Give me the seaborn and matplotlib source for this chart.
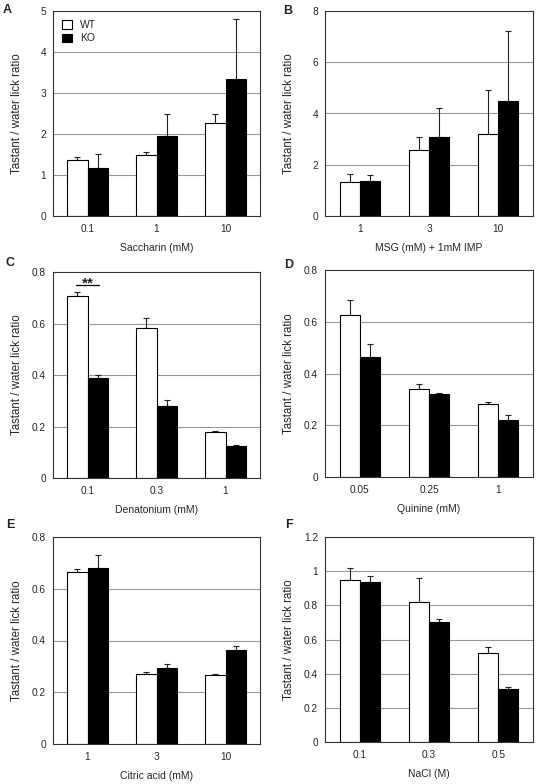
import matplotlib
matplotlib.use('Agg')  # Use a non-interactive backend
import numpy as np
import pandas as pd
import matplotlib.pyplot as plt
from matplotlib.patches import Patch
import seaborn as sns

# Panel data (means and upper SEM)
saccharin = ['0.1', '1', '10']
saccharin_wt = [1.37, 1.49, 2.27]
saccharin_wt_sem = [0.06, 0.06, 0.21]
saccharin_ko = [1.16, 1.96, 3.33]
saccharin_ko_sem = [0.34, 0.53, 1.47]

msg = ['1', '3', '10']
msg_wt = [1.33, 2.57, 3.20]
msg_wt_sem = [0.29, 0.50, 1.72]
msg_ko = [1.37, 3.08, 4.48]
msg_ko_sem = [0.23, 1.14, 2.72]

denatonium = ['0.1', '0.3', '1']
denatonium_wt = [0.707, 0.581, 0.179]
denatonium_wt_sem = [0.015, 0.041, 0.002]
denatonium_ko = [0.388, 0.280, 0.123]
denatonium_ko_sem = [0.013, 0.023, 0.007]

quinine = ['0.05', '0.25', '1']
quinine_wt = [0.628, 0.340, 0.283]
quinine_wt_sem = [0.055, 0.018, 0.007]
quinine_ko = [0.465, 0.320, 0.221]
quinine_ko_sem = [0.050, 0.006, 0.019]

citric = ['1', '3', '10']
citric_wt = [0.664, 0.269, 0.267]
citric_wt_sem = [0.014, 0.010, 0.005]
citric_ko = [0.681, 0.292, 0.362]
citric_ko_sem = [0.049, 0.016, 0.015]

nacl = ['0.1', '0.3', '0.5']
nacl_wt = [0.948, 0.822, 0.523]
nacl_wt_sem = [0.070, 0.140, 0.035]
nacl_ko = [0.935, 0.703, 0.308]
nacl_ko_sem = [0.038, 0.017, 0.016]

ticks_5 = [0, 1, 2, 3, 4, 5]
ticks_8 = [0, 2, 4, 6, 8]
ticks_08 = [0, 0.2, 0.4, 0.6, 0.8]
labels_08 = ['0', '0.2', '0.4', '0.6', '0.8']
ticks_12 = [0, 0.2, 0.4, 0.6, 0.8, 1.0, 1.2]
labels_12 = ['0', '0.2', '0.4', '0.6', '0.8', '1', '1.2']

sns.set_style('white')
plt.rcParams['font.family'] = ['Liberation Sans', 'DejaVu Sans']
plt.rcParams['font.size'] = 7.5

W, H = 537, 784
fig = plt.figure(figsize=(W / 100, H / 100), dpi=100)


def px_rect(left, top, right, bottom):
    # pixel box -> figure fraction rect
    return [left / W, 1 - bottom / H, (right - left) / W, (bottom - top) / H]


def draw_panel(rect, cats, wt, wt_sem, ko, ko_sem, yticks, ylabels, xlabel, letter, letter_xy):
    ax = fig.add_axes(rect)
    df = pd.DataFrame({
        'conc': cats + cats,
        'value': wt + ko,
        'genotype': ['WT'] * len(cats) + ['KO'] * len(cats),
    })
    # Gridlines behind the bars
    for y in yticks[1:-1]:
        ax.axhline(y, color='#999999', linewidth=0.8, zorder=0)
    sns.barplot(data=df, x='conc', y='value', hue='genotype', order=cats,
                hue_order=['WT', 'KO'], palette=['white', 'black'],
                edgecolor='black', linewidth=0.8, width=0.58, gap=0,
                errorbar=None, legend=False, saturation=1, ax=ax, zorder=2)
    # One-sided error bars on top of each bar
    for container, sem in zip(ax.containers, [wt_sem, ko_sem]):
        xs = [p.get_x() + p.get_width() / 2 for p in container]
        hs = [p.get_height() for p in container]
        ax.errorbar(xs, hs, yerr=[np.zeros(len(sem)), sem], fmt='none',
                    ecolor='#222222', elinewidth=0.8, capsize=2.5,
                    capthick=0.8, zorder=1)
    ax.set_ylim(yticks[0], yticks[-1])
    ax.set_xlim(-0.5, len(cats) - 0.5)
    ax.set_yticks(yticks)
    ax.set_yticklabels(ylabels)
    ax.set_xticks(range(len(cats)))
    ax.set_xticklabels(cats)
    ax.set_xticks([-0.5 + i for i in range(len(cats) + 1)], minor=True)
    ax.tick_params(axis='x', which='major', length=0, pad=6)
    ax.tick_params(axis='x', which='minor', length=3, width=0.8, color='#444444', direction='out')
    ax.tick_params(axis='y', length=3, width=0.8, color='#444444', direction='out', pad=2)
    ax.tick_params(axis='both', labelsize=7.3)
    for s in ax.spines.values():
        s.set_visible(True)
        s.set_color('#333333')
        s.set_linewidth(0.8)
    ax.set_xlabel(xlabel, fontsize=7.5, labelpad=6)
    ax.set_ylabel('Tastant / water lick ratio', fontsize=8.3)
    ax.yaxis.set_label_coords(-0.145, 0.5)
    fig.text(letter_xy[0] / W, 1 - letter_xy[1] / H, letter,
             fontsize=9, fontweight='bold', va='center', ha='left')
    return ax


ax_a = draw_panel(px_rect(53, 11, 260, 216), saccharin, saccharin_wt, saccharin_wt_sem,
                  saccharin_ko, saccharin_ko_sem, ticks_5, [str(t) for t in ticks_5],
                  'Saccharin (mM)', 'A', (3, 10))
ax_a.legend(handles=[Patch(facecolor='white', edgecolor='black', linewidth=0.8, label='WT'),
                     Patch(facecolor='black', edgecolor='black', linewidth=0.8, label='KO')],
            loc='upper left', frameon=False, fontsize=7.5, handlelength=0.9,
            handleheight=0.9, handletextpad=0.8, labelspacing=0.3,
            borderaxespad=0.5)

draw_panel(px_rect(325, 11, 533, 216), msg, msg_wt, msg_wt_sem, msg_ko, msg_ko_sem,
           ticks_8, [str(t) for t in ticks_8], 'MSG (mM) + 1mM IMP', 'B', (283, 11))

ax_c = draw_panel(px_rect(53, 272, 260, 478), denatonium, denatonium_wt, denatonium_wt_sem,
                  denatonium_ko, denatonium_ko_sem, ticks_08, labels_08,
                  'Denatonium (mM)', 'C', (6, 263))
ax_c.plot([-0.17, 0.17], [0.749, 0.749], color='black', linewidth=0.9)
ax_c.text(0, 0.741, '**', ha='center', va='baseline', fontsize=11, fontweight='bold')

draw_panel(px_rect(325, 270, 533, 477), quinine, quinine_wt, quinine_wt_sem,
           quinine_ko, quinine_ko_sem, ticks_08, labels_08, 'Quinine (mM)', 'D', (284, 265))

draw_panel(px_rect(53, 537, 260, 744), citric, citric_wt, citric_wt_sem,
           citric_ko, citric_ko_sem, ticks_08, labels_08, 'Citric acid (mM)', 'E', (6, 525))

draw_panel(px_rect(325, 537, 533, 742), nacl, nacl_wt, nacl_wt_sem,
           nacl_ko, nacl_ko_sem, ticks_12, labels_12, 'NaCl (M)', 'F', (285, 525))

plt.savefig('out.png', dpi=100)
plt.close()
